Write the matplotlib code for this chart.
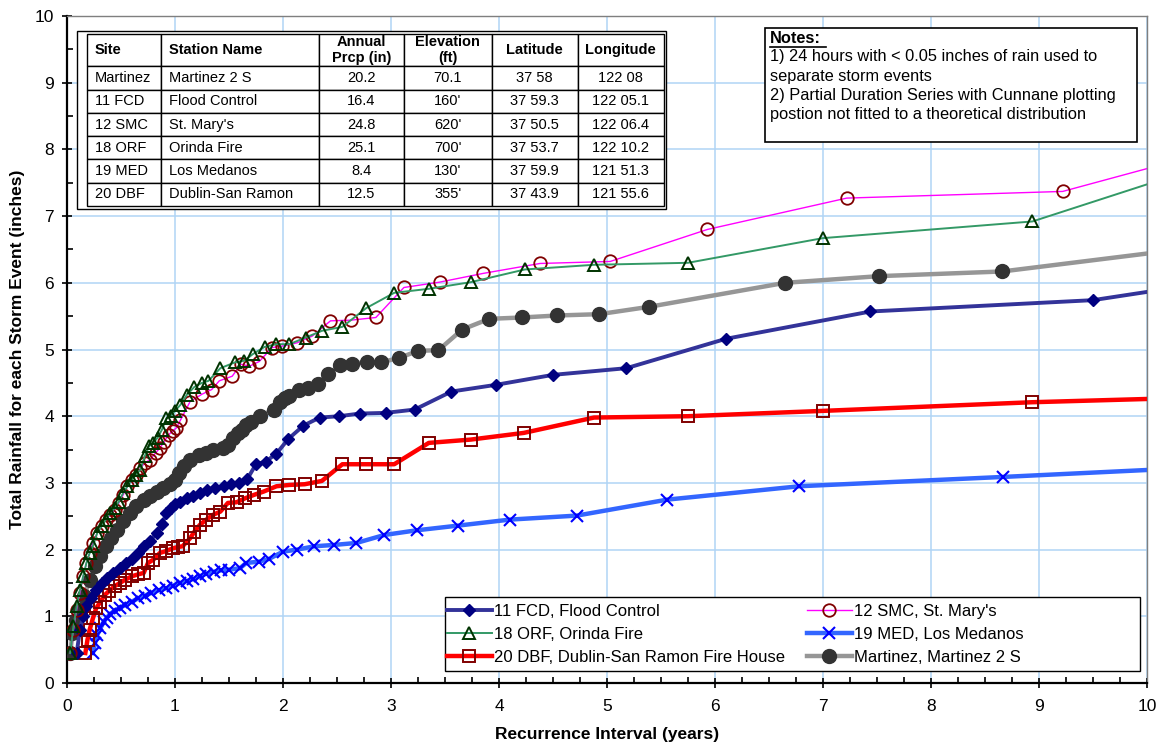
import matplotlib.pyplot as plt
import matplotlib.patches as patches
from matplotlib.ticker import MultipleLocator

plt.rcParams['font.family'] = ['Liberation Sans', 'DejaVu Sans']

# ---- data (recurrence interval yrs, rainfall inches) ----
fcd_x = [0.09, 0.12, 0.15, 0.18, 0.22, 0.27, 0.32, 0.37, 0.43, 0.49, 0.55, 0.60, 0.66, 0.71,
         0.77, 0.83, 0.88, 0.92, 0.96, 1.00, 1.05, 1.11, 1.17, 1.23, 1.30, 1.37, 1.45, 1.52,
         1.59, 1.67, 1.75, 1.84, 1.94, 2.05, 2.19, 2.34, 2.52, 2.71, 2.95, 3.22, 3.56, 3.97,
         4.50, 5.18, 6.10, 7.44, 9.50, 11.0]
fcd_y = [0.45, 0.80, 1.00, 1.15, 1.28, 1.40, 1.50, 1.58, 1.65, 1.72, 1.80, 1.86, 1.95, 2.05,
         2.13, 2.25, 2.38, 2.55, 2.62, 2.68, 2.72, 2.77, 2.80, 2.85, 2.90, 2.93, 2.95, 2.98,
         3.00, 3.06, 3.28, 3.32, 3.44, 3.66, 3.86, 3.98, 4.00, 4.04, 4.05, 4.10, 4.37, 4.47,
         4.62, 4.72, 5.16, 5.57, 5.74, 6.11]

smc_x = [0.03, 0.06, 0.09, 0.12, 0.15, 0.18, 0.21, 0.24, 0.28, 0.32, 0.36, 0.40, 0.44, 0.48,
         0.52, 0.56, 0.60, 0.64, 0.68, 0.72, 0.77, 0.82, 0.86, 0.90, 0.94, 0.98, 1.01, 1.05,
         1.14, 1.25, 1.34, 1.41, 1.53, 1.61, 1.69, 1.78, 1.90, 1.99, 2.13, 2.27, 2.44, 2.63,
         2.86, 3.12, 3.45, 3.85, 4.38, 5.03, 5.93, 7.22, 9.22, 11.0]
smc_y = [0.45, 0.80, 1.10, 1.35, 1.60, 1.80, 1.95, 2.10, 2.25, 2.35, 2.45, 2.52, 2.60, 2.70,
         2.82, 2.95, 3.05, 3.12, 3.22, 3.30, 3.35, 3.45, 3.52, 3.62, 3.72, 3.78, 3.82, 3.94,
         4.22, 4.33, 4.40, 4.53, 4.60, 4.78, 4.75, 4.82, 5.03, 5.05, 5.10, 5.20, 5.43, 5.44,
         5.48, 5.93, 6.01, 6.14, 6.29, 6.32, 6.80, 7.27, 7.37, 8.15]

orf_x = [0.03, 0.06, 0.09, 0.12, 0.15, 0.18, 0.21, 0.24, 0.28, 0.32, 0.36, 0.40, 0.44, 0.48,
         0.52, 0.56, 0.60, 0.64, 0.68, 0.72, 0.76, 0.80, 0.84, 0.88, 0.92, 0.96, 1.00, 1.05,
         1.11, 1.18, 1.25, 1.31, 1.42, 1.56, 1.64, 1.72, 1.83, 1.94, 2.06, 2.21, 2.36, 2.55,
         2.77, 3.03, 3.35, 3.74, 4.24, 4.88, 5.75, 7.00, 8.94, 11.0]
orf_y = [0.45, 0.85, 1.15, 1.40, 1.60, 1.80, 1.95, 2.05, 2.25, 2.35, 2.45, 2.55, 2.62, 2.72,
         2.85, 2.95, 3.05, 3.12, 3.20, 3.40, 3.55, 3.60, 3.68, 3.80, 3.97, 4.00, 4.08, 4.17,
         4.32, 4.44, 4.50, 4.53, 4.72, 4.81, 4.83, 4.93, 5.04, 5.08, 5.08, 5.18, 5.28, 5.34,
         5.62, 5.85, 5.91, 6.01, 6.20, 6.27, 6.30, 6.67, 6.92, 8.00]

med_x = [0.24, 0.26, 0.28, 0.31, 0.34, 0.37, 0.40, 0.44, 0.49, 0.54, 0.60, 0.66, 0.72, 0.78,
         0.85, 0.92, 0.98, 1.05, 1.11, 1.17, 1.23, 1.29, 1.36, 1.43, 1.50, 1.60, 1.66, 1.78,
         1.87, 2.00, 2.13, 2.29, 2.47, 2.68, 2.94, 3.24, 3.62, 4.10, 4.72, 5.56, 6.78, 8.67, 12.0]
med_y = [0.45, 0.60, 0.72, 0.82, 0.92, 0.98, 1.04, 1.08, 1.13, 1.17, 1.22, 1.27, 1.31, 1.35,
         1.39, 1.42, 1.46, 1.50, 1.53, 1.56, 1.60, 1.64, 1.67, 1.69, 1.70, 1.72, 1.80, 1.82,
         1.86, 1.97, 2.00, 2.05, 2.07, 2.10, 2.22, 2.29, 2.36, 2.45, 2.51, 2.75, 2.95, 3.09, 3.35]

dbf_x = [0.17, 0.19, 0.21, 0.24, 0.27, 0.31, 0.35, 0.39, 0.44, 0.49, 0.54, 0.60, 0.66, 0.71,
         0.75, 0.80, 0.86, 0.92, 0.98, 1.03, 1.07, 1.14, 1.18, 1.23, 1.29, 1.35, 1.42, 1.49,
         1.57, 1.65, 1.73, 1.82, 1.94, 2.06, 2.20, 2.36, 2.55, 2.77, 3.03, 3.35, 3.74, 4.23,
         4.88, 5.75, 7.00, 8.94, 12.0]
dbf_y = [0.45, 0.65, 0.80, 0.97, 1.12, 1.22, 1.32, 1.38, 1.45, 1.50, 1.55, 1.60, 1.63, 1.65,
         1.80, 1.85, 1.95, 1.98, 2.02, 2.04, 2.05, 2.17, 2.27, 2.37, 2.45, 2.52, 2.57, 2.70,
         2.71, 2.77, 2.82, 2.87, 2.95, 2.97, 2.98, 3.03, 3.28, 3.28, 3.28, 3.60, 3.65, 3.75,
         3.98, 4.00, 4.08, 4.21, 4.35]

mtz_x = [0.03, 0.05, 0.08, 0.12, 0.16, 0.21, 0.26, 0.31, 0.36, 0.41, 0.46, 0.52, 0.58, 0.64,
         0.71, 0.77, 0.83, 0.89, 0.95, 1.00, 1.04, 1.08, 1.14, 1.22, 1.29, 1.35, 1.44, 1.49,
         1.54, 1.58, 1.62, 1.66, 1.70, 1.79, 1.92, 1.97, 2.02, 2.06, 2.15, 2.23, 2.32, 2.42,
         2.53, 2.64, 2.78, 2.91, 3.07, 3.25, 3.44, 3.66, 3.91, 4.21, 4.54, 4.93, 5.39, 6.65,
         7.52, 8.66, 12.0]
mtz_y = [0.45, 0.75, 0.95, 1.10, 1.30, 1.55, 1.75, 1.90, 2.05, 2.18, 2.30, 2.43, 2.55, 2.65,
         2.75, 2.80, 2.87, 2.93, 2.98, 3.05, 3.15, 3.25, 3.35, 3.42, 3.45, 3.50, 3.53, 3.57,
         3.67, 3.75, 3.80, 3.87, 3.92, 4.01, 4.10, 4.22, 4.27, 4.30, 4.40, 4.42, 4.48, 4.63,
         4.77, 4.79, 4.81, 4.81, 4.87, 4.98, 4.99, 5.30, 5.46, 5.48, 5.51, 5.53, 5.64, 6.00,
         6.10, 6.17, 6.84]

# ---- station table ----
col_labels = ["Site", "Station Name", "Annual\nPrcp (in)", "Elevation\n(ft)", "Latitude", "Longitude"]
sites = ["Martinez", "11 FCD", "12 SMC", "18 ORF", "19 MED", "20 DBF"]
names = ["Martinez 2 S", "Flood Control", "St. Mary's", "Orinda Fire", "Los Medanos", "Dublin-San Ramon"]
prcp = ["20.2", "16.4", "24.8", "25.1", "8.4", "12.5"]
elev = ["70.1", "160'", "620'", "700'", "130'", "355'"]
lat = ["37 58", "37 59.3", "37 50.5", "37 53.7", "37 59.9", "37 43.9"]
lon = ["122 08", "122 05.1", "122 06.4", "122 10.2", "121 51.3", "121 55.6"]

fig = plt.figure(figsize=(11.65, 7.51), dpi=100)
ax = fig.add_axes([0.0575, 0.0905, 0.927, 0.8882])

# series
ax.plot(fcd_x, fcd_y, color='#333399', lw=2.8, marker='D', ms=6.5, mfc='#000080', mec='#000080',
        label="11 FCD, Flood Control", zorder=5)
ax.plot(smc_x, smc_y, color='#FF00FF', lw=1.0, marker='o', ms=9, mfc='none', mec='#800000',
        mew=1.3, label="12 SMC, St. Mary's", zorder=6)
ax.plot(orf_x, orf_y, color='#339966', lw=1.4, marker='^', ms=9, mfc='none', mec='#003300',
        mew=1.4, label="18 ORF, Orinda Fire", zorder=6)
ax.plot(med_x, med_y, color='#3366FF', lw=3.2, marker='x', ms=9, mec='#0000FF', mew=1.5,
        label="19 MED, Los Medanos", zorder=4)
ax.plot(dbf_x, dbf_y, color='#FF0000', lw=3.2, marker='s', ms=8.5, mfc='none', mec='#800000',
        mew=1.4, label="20 DBF, Dublin-San Ramon Fire House", zorder=4)
ax.plot(mtz_x, mtz_y, color='#969696', lw=3.2, marker='o', ms=10, mfc='#333333', mec='#333333',
        label="Martinez, Martinez 2 S", zorder=3)

ax.set_xlim(0, 10)
ax.set_ylim(0, 10)
ax.xaxis.set_major_locator(MultipleLocator(1))
ax.xaxis.set_minor_locator(MultipleLocator(0.25))
ax.yaxis.set_major_locator(MultipleLocator(1))
ax.yaxis.set_minor_locator(MultipleLocator(0.5))
ax.grid(True, which='major', color='#B0D4F5', lw=1.1)
ax.set_axisbelow(True)
ax.tick_params(which='major', direction='inout', length=7, width=1.2, labelsize=12.5)
ax.tick_params(axis='x', which='major', pad=8)
ax.tick_params(axis='y', which='major', pad=6)
ax.tick_params(which='minor', direction='in', length=4, width=1.2)
for s in ['left', 'bottom']:
    ax.spines[s].set_linewidth(1.6)
for s in ['top', 'right']:
    ax.spines[s].set_color('#7F7F7F')
    ax.spines[s].set_linewidth(1.0)

ax.set_xlabel("Recurrence Interval (years)", fontsize=12.5, fontweight='bold', labelpad=9)
ax.set_ylabel("Total Rainfall for each Storm Event (inches)", fontsize=12.5, fontweight='bold',
              labelpad=7)

# legend: two columns, row order as in the original, framed by a wider box
h, l = ax.get_legend_handles_labels()
order = [0, 2, 4, 1, 3, 5]
leg_box = patches.Rectangle((0.350, 0.018), 0.6435, 0.111, transform=ax.transAxes,
                            facecolor='white', edgecolor='black', lw=1.0, zorder=9)
ax.add_patch(leg_box)
leg = ax.legend([h[i] for i in order], [l[i] for i in order], ncol=2, loc='center left',
                bbox_to_anchor=(0.3515, 0.0735), fontsize=12, frameon=False,
                handlelength=2.7, handletextpad=0.15, columnspacing=1.3,
                borderpad=0.0, borderaxespad=0.0, labelspacing=0.48)
leg.set_zorder(10)

# table with frame
frame = patches.Rectangle((0.0092, 0.7106), 0.5458, 0.267, transform=ax.transAxes,
                          facecolor='white', edgecolor='black', lw=1.0, zorder=11)
ax.add_patch(frame)
cells = [[sites[i], names[i], prcp[i], elev[i], lat[i], lon[i]] for i in range(len(sites))]
col_w = [74, 158, 85, 88, 86, 86]
tab = ax.table(cellText=cells, colLabels=col_labels, cellLoc='center',
               colWidths=col_w, bbox=[0.0185, 0.7151, 0.534, 0.258])
tab.auto_set_font_size(False)
tab.set_fontsize(10.5)
tab.set_zorder(12)
for (r, c), cell in tab.get_celld().items():
    cell.set_linewidth(1.0)
    if r == 0:
        cell.set_height(cell.get_height() * 1.39)
        cell.get_text().set_fontweight('bold')
    if c in (0, 1):
        cell.get_text().set_horizontalalignment('left')
        cell.PAD = 8.0 / col_w[c]

# notes box
notes = patches.Rectangle((0.646, 0.811), 0.345, 0.171, transform=ax.transAxes,
                          facecolor='white', edgecolor='black', lw=1.2, zorder=11)
ax.add_patch(notes)
ax.text(0.651, 0.978, "Notes:", transform=ax.transAxes, fontsize=11.8, fontweight='bold',
        va='top', ha='left', zorder=12)
ax.plot([0.651, 0.703], [0.954, 0.954], transform=ax.transAxes, color='black', lw=1.2,
        zorder=12, clip_on=False)
ax.text(0.651, 0.950,
        "1) 24 hours with < 0.05 inches of rain used to\nseparate storm events\n"
        "2) Partial Duration Series with Cunnane plotting\npostion not fitted to a theoretical distribution",
        transform=ax.transAxes, fontsize=11.8, va='top', ha='left', linespacing=1.35, zorder=12)

fig.savefig("out.png", dpi=100)
